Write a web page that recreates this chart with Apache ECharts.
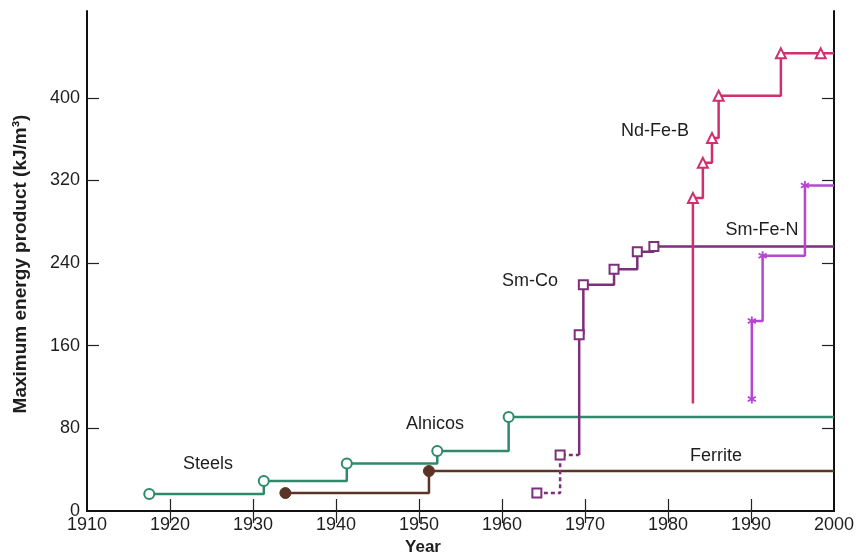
<!DOCTYPE html>
<html>
<head>
<meta charset="utf-8">
<script src="https://cdn.jsdelivr.net/npm/echarts@6/dist/echarts.min.js"></script>
<style>
  html, body { margin: 0; padding: 0; background: #fff; }
  #chart { width: 857px; height: 559px; }
</style>
</head>
<body>
<div id="chart"></div>
<script>
;(function () {
  'use strict'

  // values (year, kJ/m3)
  var steelYears = [1917.5, 1931.3, 1941.3, 1952.2, 1960.8]
  var steelValues = [16.5, 29, 46, 58, 91]

  var ferriteYears = [1933.9, 1951.2]
  var ferriteValues = [17.4, 38.7]

  var smcoEarlyYears = [1964.2, 1967.0]
  var smcoEarlyValues = [17.4, 54.2]
  var smcoYears = [1969.3, 1969.8, 1973.5, 1976.3, 1978.3]
  var smcoValues = [170.5, 219, 234, 251, 256]

  // first Nd-Fe-B point is the unmarked foot of the line
  var ndfebYears = [1983.0, 1983.0, 1984.2, 1985.3, 1986.1, 1993.6, 1998.4]
  var ndfebValues = [104, 303, 337, 361, 402, 443, 443]

  var smfenYears = [1990.1, 1990.1, 1991.4, 1996.5]
  var smfenValues = [108.5, 184, 247, 315]

  var xTicks = [1910, 1920, 1930, 1940, 1950, 1960, 1970, 1980, 1990, 2000]
  var yTicks = [0, 80, 160, 240, 320, 400]

  var FONT = "'Liberation Sans', Arial, Helvetica, sans-serif"
  var COLORS = {
    steel:   '#2f8a6b',
    ferrite: '#5b3426',
    smco:    '#7d2f7c',
    ndfeb:   '#d22f6f',
    smfen:   '#b547d2',
    text:    '#1e1e1e',
    frame:   '#111'
  }

  var ASTERISK = 'path://M-1,-5L1,-5L1,5L-1,5Z' +
    'M-4.83,-1.63L-3.83,-3.37L4.83,1.63L3.83,3.37Z' +
    'M3.83,-3.37L4.83,-1.63L-3.83,3.37L-4.83,1.63Z'

  function pairs(xs, ys) {
    return xs.map(function (x, i) { return [x, ys[i]] })
  }

  function stepSeries(name, data, color, symbol, size, extra) {
    var s = {
      name: name,
      type: 'line',
      step: 'end',
      data: data,
      symbol: symbol,
      symbolSize: size,
      showAllSymbol: true,
      clip: false,
      animation: false,
      lineStyle: { color: color, width: 2.5 },
      itemStyle: { color: '#fff', borderColor: color, borderWidth: 2 }
    }
    return Object.assign(s, extra || {})
  }

  function toEdge(data) {
    var last = data[data.length - 1]
    var v = Array.isArray(last) ? last : last.value
    data.push({ value: [2000, v[1]], symbol: 'none' })
    return data
  }

  var steelData = toEdge(pairs(steelYears, steelValues))
  var ferriteData = toEdge(pairs(ferriteYears, ferriteValues))

  var smcoEarlyData = pairs(smcoEarlyYears, smcoEarlyValues)
  smcoEarlyData.push({ value: [smcoYears[0], smcoEarlyValues[smcoEarlyValues.length - 1]], symbol: 'none' })
  var smcoData = [{ value: [smcoYears[0], smcoEarlyValues[smcoEarlyValues.length - 1]], symbol: 'none' }]
    .concat(pairs(smcoYears, smcoValues))
  toEdge(smcoData)

  var ndfebData = pairs(ndfebYears, ndfebValues)
  ndfebData[0] = { value: ndfebData[0], symbol: 'none' }
  toEdge(ndfebData)

  var smfenData = toEdge(pairs(smfenYears, smfenValues))

  function label(text, x, y) {
    return {
      type: 'text', x: x, y: y, z: 100,
      style: {
        text: text, fill: COLORS.text, font: '18px ' + FONT,
        align: 'center', verticalAlign: 'middle',
        textAlign: 'center', textVerticalAlign: 'middle'
      }
    }
  }

  function plain(v) { return String(v) }

  var frameLine = { show: true, lineStyle: { color: COLORS.frame, width: 2 } }
  var innerTick = { show: true, inside: true, length: 12, lineStyle: { color: '#222', width: 1.2 } }

  var chart = echarts.init(document.getElementById('chart'))
  chart.setOption({
    backgroundColor: '#fff',
    animation: false,
    grid: { left: 87, right: 23, top: 11, bottom: 48, outerBoundsMode: 'none', containLabel: false },
    xAxis: [{
      type: 'value', min: 1910, max: 2000, interval: 10,
      name: 'Year', nameLocation: 'middle', nameGap: 28,
      nameTextStyle: { fontFamily: FONT, fontWeight: 'bold', fontSize: 17, color: COLORS.text, padding: [0, 75, 0, 0] },
      axisLine: frameLine,
      axisTick: Object.assign({ customValues: xTicks.slice(1, -1) }, innerTick),
      axisLabel: { customValues: xTicks, formatter: plain, margin: 5, fontFamily: FONT, fontSize: 18, color: COLORS.text },
      splitLine: { show: false }
    }, {
      type: 'value', position: 'top', min: 1910, max: 2000, interval: 10,
      axisLine: frameLine,
      axisTick: Object.assign({ customValues: xTicks.slice(1, -1) }, innerTick),
      axisLabel: { show: false },
      splitLine: { show: false }
    }],
    yAxis: [{
      type: 'value', min: 0, max: 484, interval: 80,
      name: 'Maximum energy product (kJ/m\u00b3)', nameLocation: 'middle', nameGap: 57,
      nameTextStyle: { fontFamily: FONT, fontWeight: 'bold', fontSize: 19, color: COLORS.text, padding: [0, 6, 0, 0] },
      axisLine: frameLine,
      axisTick: Object.assign({ customValues: yTicks.slice(1) }, innerTick),
      axisLabel: { customValues: yTicks, formatter: plain, margin: 7, fontFamily: FONT, fontSize: 18, color: COLORS.text },
      splitLine: { show: false }
    }, {
      type: 'value', position: 'right', min: 0, max: 484, interval: 80,
      axisLine: frameLine,
      axisTick: Object.assign({ customValues: yTicks.slice(1) }, innerTick),
      axisLabel: { show: false },
      splitLine: { show: false }
    }],
    series: [
      stepSeries('Steels/Alnicos', steelData, COLORS.steel, 'circle', 10),
      stepSeries('Ferrite', ferriteData, COLORS.ferrite, 'circle', 11,
        { itemStyle: { color: COLORS.ferrite, borderColor: COLORS.ferrite, borderWidth: 1 } }),
      stepSeries('Sm-Co early', smcoEarlyData, COLORS.smco, 'rect', 9,
        { lineStyle: { color: COLORS.smco, width: 2.5, type: [4, 3] } }),
      stepSeries('Sm-Co', smcoData, COLORS.smco, 'rect', 9),
      stepSeries('Nd-Fe-B', ndfebData, COLORS.ndfeb, 'triangle', 10),
      stepSeries('Sm-Fe-N', smfenData, COLORS.smfen, ASTERISK, 9,
        { itemStyle: { color: COLORS.smfen, borderWidth: 0 } })
    ],
    graphic: [
      label('Steels', 208, 464),
      label('Alnicos', 435, 424),
      label('Ferrite', 716, 456),
      label('Sm-Co', 530, 281),
      label('Nd-Fe-B', 655, 131),
      label('Sm-Fe-N', 762, 230)
    ]
  })
})()
</script>
</body>
</html>
